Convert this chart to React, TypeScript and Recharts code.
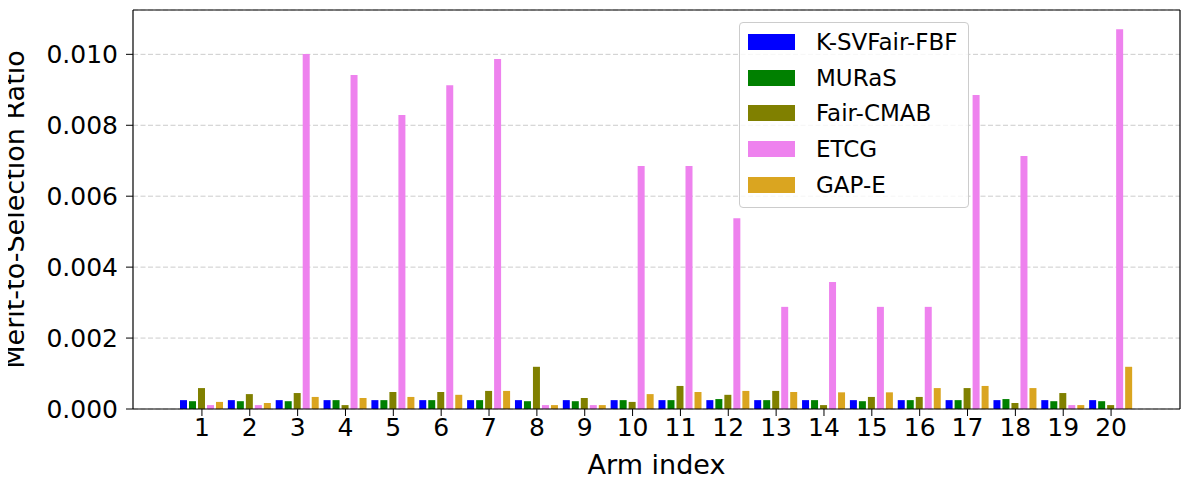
import { Bar, BarChart, CartesianGrid, Label, Legend, XAxis, YAxis } from "recharts";

const arms = ["1", "2", "3", "4", "5", "6", "7", "8", "9", "10", "11", "12", "13", "14", "15", "16", "17", "18", "19", "20"];

const kSvFairFbf = [0.00025, 0.00025, 0.00025, 0.00025, 0.00025, 0.00025, 0.00025, 0.00025, 0.00025, 0.00025, 0.00025, 0.00025, 0.00025, 0.00025, 0.00025, 0.00025, 0.00025, 0.00025, 0.00025, 0.00025];
const muras = [0.00022, 0.00022, 0.00022, 0.00025, 0.00025, 0.00025, 0.00025, 0.00022, 0.00022, 0.00025, 0.00025, 0.00028, 0.00025, 0.00025, 0.00022, 0.00025, 0.00025, 0.00028, 0.00022, 0.00022];
const fairCmab = [0.00059, 0.00042, 0.00045, 0.00011, 0.00048, 0.00048, 0.00051, 0.00119, 0.00031, 0.0002, 0.00065, 0.0004, 0.00051, 0.00011, 0.00034, 0.00034, 0.00059, 0.00017, 0.00045, 0.00011];
const etcg = [0.00011, 0.00011, 0.01001, 0.00942, 0.00829, 0.00913, 0.00987, 0.00011, 0.00011, 0.00685, 0.00685, 0.00538, 0.00288, 0.00358, 0.00288, 0.00288, 0.00885, 0.00713, 0.00011, 0.01071];
const gapE = [0.0002, 0.00017, 0.00034, 0.00031, 0.00034, 0.0004, 0.00051, 0.00011, 0.00011, 0.00042, 0.00048, 0.00051, 0.00048, 0.00047, 0.00047, 0.00059, 0.00065, 0.00059, 0.00011, 0.00119];

const yTicks = [0, 0.002, 0.004, 0.006, 0.008, 0.01];

const series = [
  { key: "kSvFairFbf", name: "K-SVFair-FBF", color: "#0000ff" },
  { key: "muras", name: "MURaS", color: "#008000" },
  { key: "fairCmab", name: "Fair-CMAB", color: "#808000" },
  { key: "etcg", name: "ETCG", color: "#ee82ee" },
  { key: "gapE", name: "GAP-E", color: "#daa520" },
];

const data = arms.map((arm, i) => ({
  arm,
  kSvFairFbf: kSvFairFbf[i],
  muras: muras[i],
  fairCmab: fairCmab[i],
  etcg: etcg[i],
  gapE: gapE[i],
}));

const font = "'DejaVu Sans', sans-serif";

// legend box drawn like matplotlib's framed legend
const renderLegend = () => (
  <div
    style={{
      width: 228,
      height: 184,
      border: "1px solid #cccccc",
      borderRadius: 4,
      background: "rgba(255,255,255,0.8)",
      fontFamily: font,
      fontSize: 23,
      color: "#000",
      position: "relative",
    }}
  >
    {series.map((s, i) => (
      <div
        key={s.key}
        style={{ position: "absolute", left: 8, top: 19 + i * 35.7 - 12, height: 24, display: "flex", alignItems: "center" }}
      >
        <div style={{ width: 47, height: 16, background: s.color }} />
        <span style={{ marginLeft: 21, lineHeight: "24px", whiteSpace: "nowrap" }}>{s.name}</span>
      </div>
    ))}
  </div>
);

const frame = { stroke: "#000", strokeWidth: 1.2 };

export default function App() {
  return (
    <div style={{ margin: -8 }}>
      <BarChart
        width={1190}
        height={490}
        data={data}
        margin={{ top: 9, right: 9, left: 0, bottom: 0 }}
        barSize={7}
        barGap={2}
      >
        <CartesianGrid vertical={false} stroke="#cccccc" strokeDasharray="5 2.5" />
        <XAxis
          dataKey="arm"
          interval={0}
          height={81}
          padding={{ left: 45, right: 45 }}
          tickSize={7}
          tickMargin={2}
          tick={{ fill: "#000", fontSize: 25, fontFamily: font }}
          axisLine={frame}
          tickLine={{ stroke: "#000" }}
        >
          <Label
            value="Arm index"
            position="insideBottom"
            offset={16}
            style={{ fill: "#000", fontSize: 27, fontFamily: font }}
          />
        </XAxis>
        <XAxis xAxisId="top" dataKey="arm" orientation="top" height={1} tick={false} tickLine={false} axisLine={frame} />
        <YAxis
          width={133}
          domain={[0, 0.01125]}
          ticks={yTicks}
          allowDataOverflow
          tickFormatter={(v: number) => v.toFixed(3)}
          tickSize={7}
          tickMargin={8}
          tick={{ fill: "#000", fontSize: 25, fontFamily: font }}
          axisLine={frame}
          tickLine={{ stroke: "#000" }}
        >
          <Label
            value="Merit-to-Selection Ratio"
            angle={-90}
            position="insideLeft"
            offset={14}
            style={{ fill: "#000", fontSize: 27, fontFamily: font, textAnchor: "middle" }}
          />
        </YAxis>
        <YAxis yAxisId="right" orientation="right" width={1} tick={false} tickLine={false} axisLine={frame} />
        <Legend
          content={renderLegend}
          layout="vertical"
          align="center"
          verticalAlign="middle"
          wrapperStyle={{ position: "absolute", left: 739, top: 22, width: 230, height: 186 }}
        />
        {series.map((s) => (
          <Bar key={s.key} dataKey={s.key} name={s.name} fill={s.color} isAnimationActive={false} />
        ))}
      </BarChart>
    </div>
  );
}
